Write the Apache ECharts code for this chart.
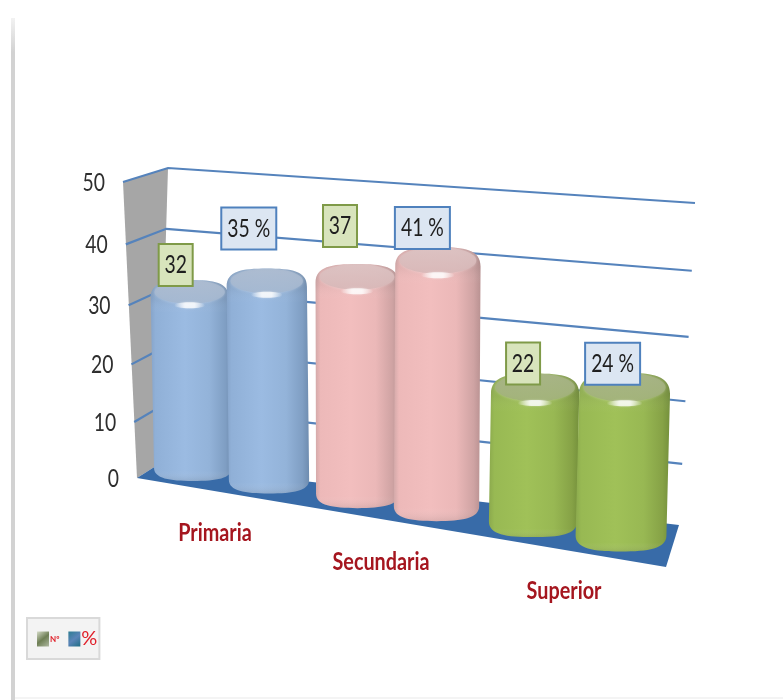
<!DOCTYPE html>
<html>
<head>
<meta charset="utf-8">
<script src="https://cdn.jsdelivr.net/npm/echarts@6/dist/echarts.min.js"></script>
<style>html,body{margin:0;padding:0;background:#fff}#chart{width:783px;height:700px}</style>
</head>
<body>
<div id="chart"></div>
<script>
const categories = ['Primaria', 'Secundaria', 'Superior'];
const countValues = [32, 37, 22];
const percentValues = [35, 41, 24];
const tickValues = [0, 10, 20, 30, 40, 50];
const countName = 'Nº';
const percentName = '%';

// ----- perspective layout (not data) -----
const G = { left: 137, top: 182, width: 528, height: 296 };
const groupNudge = [6, -4, 0];
const seriesSpread = [38, 39.5, 44];
const boxDx = [[-14, -17, -12], [-18, -15.5, -12]];
const boxDy = [[6, -17, 11], [-19, 2, 12]];
const labelDx = [-16, -16, -13];
const labelDy = [58, 60, 61];
const palette = [
  { edge0: '#86A4CA', a: '#90B0D7', mid: '#9BBBE2', b: '#93B3D9', c: '#7F9EC3', edge1: '#6E8CAF', cap: '#ACBBD0', capDark: '#A2B6CF' },
  { edge0: '#D3A9A9', a: '#EDB9B9', mid: '#F2BEBE', b: '#EBB8B8', c: '#CFA3A3', edge1: '#B99292', cap: '#DCC2C2', capDark: '#D6B6B6' },
  { edge0: '#8BA94D', a: '#98B953', mid: '#A0C158', b: '#98B853', c: '#86A246', edge1: '#74903B', cap: '#A6B285', capDark: '#A0B078' }
];
const boxStyle = [
  { fill: '#D8E4BC', stroke: '#7F9A48' },
  { fill: '#DCE6F2', stroke: '#4F81BD' }
];
const LG = echarts.graphic.LinearGradient;

function wallPoints(api, v) {
  const h = api.coord([0, 0])[1] - api.coord([0, v])[1];
  const t = h / 296, sag = t * (1 - t);
  return {
    front: [137 - 14 * t, 478 - h + 20 * sag],
    backL: [159 + 9 * t, 464 - h + 10 * sag],
    backR: [679 + 16 * t, 525 - 322 * t + 21 * sag]
  };
}

function renderFrame(params, api) {
  const lo = wallPoints(api, 0), hi = wallPoints(api, 50);
  return { type: 'group', children: [
    { type: 'polygon', z2: 1, shape: { points: [lo.front, hi.front, hi.backL, lo.backL] }, style: { fill: '#A6A6A6' } },
    { type: 'polygon', z2: 2, shape: { points: [lo.front, lo.backL, lo.backR, [666, 567]] }, style: { fill: '#386BA8' } }
  ] };
}

function renderTick(params, api) {
  const v = api.value(0);
  const p = wallPoints(api, v);
  const children = [];
  if (v > 0) {
    children.push({ type: 'polyline', z2: 3, shape: { points: [p.front, p.backL, p.backR] }, style: { stroke: '#5583BC', lineWidth: 2.2, fill: null } });
  }
  children.push({ type: 'text', z2: 3, x: p.front[0] - 18, y: p.front[1] + 1, scaleX: 0.88, scaleY: 1.12,
    style: { text: String(v), font: '22px Lato', fill: '#2E2E2E', align: 'right', verticalAlign: 'middle' } });
  return { type: 'group', children };
}

function cylinder(si) {
  return function (params, api) {
    const cat = api.value(0), val = api.value(1);
    const origin = api.coord([cat, 0]);
    const h0 = origin[1] - api.coord([cat, val])[1];
    const bx = origin[0] + groupNudge[cat] + (si === 0 ? -1 : 1) * seriesSpread[cat];
    const dx = bx - 193;
    const r = 39 + dx * 0.015;
    const ry = 12 + dx * 0.006;
    const baseY = 469 + dx * 0.159;
    const h = h0 * (5.53 + 0.0026 * dx - 2.2e-6 * dx * dx) / 5.92;
    const topY = baseY - h;
    const tx = bx + (bx - 380) * 1e-4 * h;
    const tl = tx - r, tr = tx + r, bl = bx - r, br = bx + r;
    const yT = topY - ry, yB = baseY + ry, yS = topY + ry * 0.45, yBS = baseY - ry * 0.1;
    const d = 'M' + tl + ' ' + yS +
      'C' + tl + ' ' + (yT + ry * 0.2) + ' ' + (tx - r * 0.62) + ' ' + yT + ' ' + tx + ' ' + yT +
      'C' + (tx + r * 0.62) + ' ' + yT + ' ' + tr + ' ' + (yT + ry * 0.2) + ' ' + tr + ' ' + yS +
      'L' + br + ' ' + yBS +
      'C' + br + ' ' + (baseY + ry * 0.8) + ' ' + (bx + r * 0.6) + ' ' + yB + ' ' + bx + ' ' + yB +
      'C' + (bx - r * 0.6) + ' ' + yB + ' ' + bl + ' ' + (baseY + ry * 0.8) + ' ' + bl + ' ' + yBS + 'Z';
    const c = palette[cat];
    const z = 10 + cat * 4 + si * 2;
    const bs = boxStyle[si];
    const bw = si === 0 ? 34 : 55, bh = 42;
    const bxc = tx + boxDx[si][cat];
    const bBottom = yT + boxDy[si][cat];
    const text = String(val) + (si === 1 ? ' %' : '');
    const yFrac = (2.2 * ry) / (yB - yT);
    const hr = r * 0.4;
    return { type: 'group', children: [
      { type: 'path', z2: z, shape: { pathData: d }, style: {
        fill: new LG(0, 0, 1, 0, [
          { offset: 0, color: c.edge0 }, { offset: 0.06, color: c.a }, { offset: 0.42, color: c.mid },
          { offset: 0.72, color: c.b }, { offset: 0.92, color: c.c }, { offset: 1, color: c.edge1 }
        ]) } },
      { type: 'path', z2: z, shape: { pathData: d }, style: {
        fill: new LG(0, 0, 0, 1, [
          { offset: 0, color: 'rgba(110,110,110,0.22)' }, { offset: yFrac * 0.75, color: 'rgba(110,110,110,0.08)' },
          { offset: yFrac * 1.25, color: 'rgba(255,255,255,0)' }, { offset: 0.95, color: 'rgba(255,255,255,0)' },
          { offset: 1, color: 'rgba(90,90,90,0.14)' }
        ]) } },
      { type: 'ellipse', z2: z, shape: { cx: tx, cy: topY, rx: r * 0.9, ry: ry * 0.98 }, style: {
        fill: new LG(0, 0, 0, 1, [{ offset: 0, color: c.cap }, { offset: 1, color: c.capDark }]), opacity: 0.88, shadowBlur: 3, shadowColor: 'rgba(255,255,255,0.35)' } },
      { type: 'ellipse', z2: z, shape: { cx: tx, cy: topY + ry * 1.1, rx: hr, ry: 3 }, style: {
        shadowBlur: 2, shadowColor: 'rgba(255,255,255,0.6)',
        fill: new LG(0, 0, 1, 0, [{ offset: 0, color: 'rgba(255,255,255,0)' }, { offset: 0.35, color: 'rgba(255,255,255,0.75)' }, { offset: 0.65, color: 'rgba(255,255,255,0.75)' }, { offset: 1, color: 'rgba(255,255,255,0)' }]) } },
      { type: 'rect', z2: 100, shape: { x: bxc - bw / 2, y: bBottom - bh, width: bw, height: bh }, style: { fill: bs.fill, stroke: bs.stroke, lineWidth: 2 } },
      { type: 'text', z2: 101, x: bxc, y: bBottom - bh / 2, scaleX: 0.88, scaleY: 1.15,
        style: { text: text, font: '22px Lato', fill: '#1E1E1E', align: 'center', verticalAlign: 'middle' } }
    ] };
  };
}

function renderCategory(params, api) {
  const cat = api.value(0);
  const origin = api.coord([cat, 0]);
  const cx = origin[0] + groupNudge[cat];
  const y = 469 + (cx - 193) * 0.159 + labelDy[cat];
  return { type: 'text', z2: 5, x: cx + labelDx[cat], y: y, scaleX: 0.9, scaleY: 1.15,
    style: { text: categories[cat], font: 'bold 22px Lato', fill: '#A5161F', align: 'center', verticalAlign: 'middle' } };
}

const chart = echarts.init(document.getElementById('chart'), null, { renderer: 'canvas' });
chart.setOption({
  animation: false,
  backgroundColor: '#ffffff',
  grid: { left: G.left, top: G.top, width: G.width, height: G.height, containLabel: false },
  xAxis: { type: 'category', data: categories, show: false },
  yAxis: { type: 'value', min: 0, max: 50, interval: 10, show: false },
  legend: {
    left: 27, top: 618, orient: 'horizontal', data: [
      { name: countName, itemStyle: { color: new LG(0, 0, 1, 1, [{ offset: 0, color: '#D5DBC8' }, { offset: 0.5, color: '#6E7F55' }, { offset: 1, color: '#AEB8A0' }]) }, textStyle: { fontSize: 8, fontWeight: 'bold', color: '#E0202A' } },
      { name: percentName, itemStyle: { color: new LG(0, 0, 1, 1, [{ offset: 0, color: '#2E7C93' }, { offset: 0.5, color: '#5B84B8' }, { offset: 1, color: '#1F6E85' }]) }, textStyle: { fontSize: 20, color: '#E0202A' } }
    ],
    itemWidth: 12, itemHeight: 15, itemGap: 9, icon: 'rect',
    backgroundColor: '#F3F3F3', borderColor: '#D9D9D9', borderWidth: 2,
    padding: [11, 2, 10, 10], selectedMode: false,
    textStyle: { padding: [0, 0, 0, -4], fontFamily: 'Lato' }
  },
  graphic: [
    { type: 'rect', left: 11, top: 18, shape: { width: 4, height: 682 },
      style: { fill: new LG(0, 0, 0, 1, [{ offset: 0, color: '#F2F2F2' }, { offset: 0.05, color: '#D2D2D2' }, { offset: 1, color: '#D2D2D2' }]) } },
    { type: 'rect', left: 15, top: 697, shape: { width: 768, height: 2 }, style: { fill: '#F4F4F4' } }
  ],
  series: [
    { type: 'custom', name: 'marco', coordinateSystem: 'cartesian2d', silent: true, data: [[0, 0]], renderItem: renderFrame, encode: { x: 0, y: 1 } },
    { type: 'custom', name: 'escala', coordinateSystem: 'cartesian2d', silent: true, data: tickValues.map(v => [v]), renderItem: renderTick, encode: { y: 0 } },
    { type: 'custom', name: 'categorias', coordinateSystem: 'cartesian2d', silent: true, data: categories.map((c, i) => [i, 0]), renderItem: renderCategory, encode: { x: 0, y: 1 } },
    { type: 'custom', name: countName, coordinateSystem: 'cartesian2d', data: countValues.map((v, i) => [i, v]), renderItem: cylinder(0), encode: { x: 0, y: 1 } },
    { type: 'custom', name: percentName, coordinateSystem: 'cartesian2d', data: percentValues.map((v, i) => [i, v]), renderItem: cylinder(1), encode: { x: 0, y: 1 } }
  ]
});
</script>
</body>
</html>
